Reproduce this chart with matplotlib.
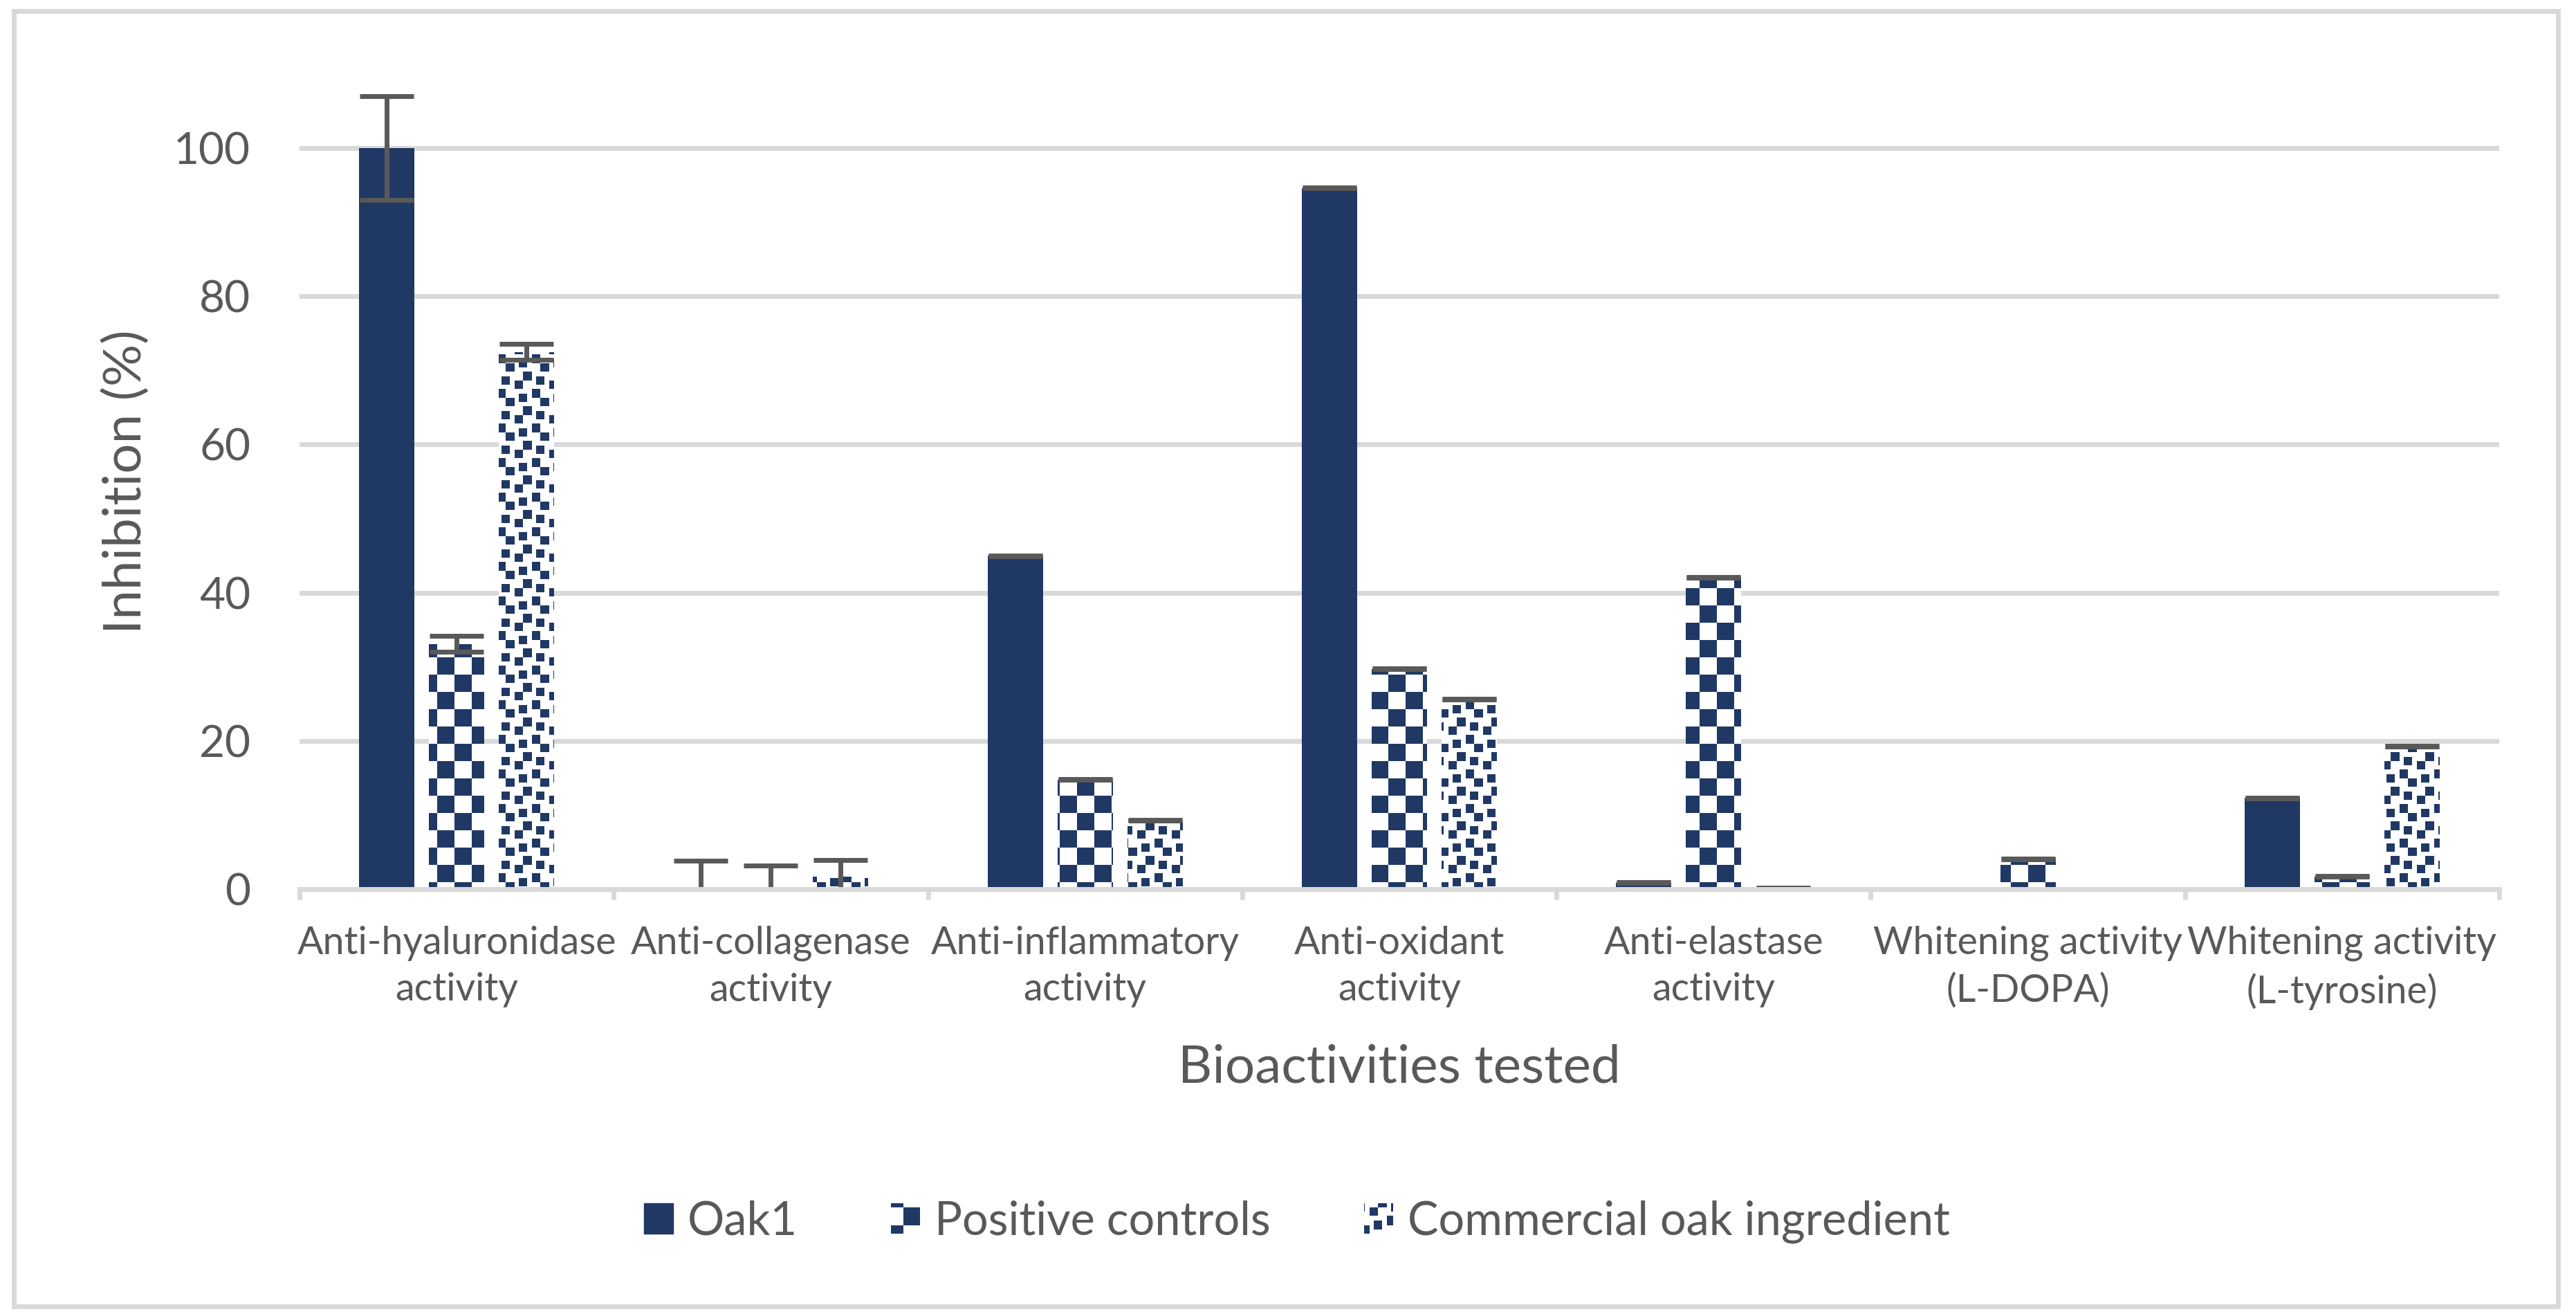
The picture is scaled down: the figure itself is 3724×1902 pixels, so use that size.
import numpy as np
import matplotlib
matplotlib.use('Agg')
import matplotlib.pyplot as plt
from matplotlib.patches import Rectangle
from matplotlib.path import Path
from matplotlib.legend_handler import HandlerBase

plt.rcParams['font.family'] = ['Lato', 'DejaVu Sans']

categories = ['Anti-hyaluronidase\nactivity', 'Anti-collagenase\nactivity', 'Anti-inflammatory\nactivity',
              'Anti-oxidant\nactivity', 'Anti-elastase\nactivity', 'Whitening activity\n(L-DOPA)',
              'Whitening activity\n(L-tyrosine)']
series = ['Oak1', 'Positive controls', 'Commercial oak ingredient']
oak1 = [100.0, 0.0, 45.0, 94.6, 0.85, 0.0, 12.3]
oak1_err = [7.0, 3.8, 0.05, 0.05, 0.05, 0.0, 0.05]
positive = [33.1, 0.0, 14.8, 29.7, 42.1, 4.1, 1.7]
positive_err = [1.1, 3.2, 0.05, 0.05, 0.05, 0.05, 0.05]
commercial = [72.5, 1.7, 9.3, 25.6, 0.1, 0.0, 19.3]
commercial_err = [1.1, 2.2, 0.05, 0.05, 0.05, 0.0, 0.05]

NAVY = '#203864'
NAVY_RGB = (32, 56, 100)
GRAY = '#595959'
GRID = '#D9D9D9'

# figure / plot area in pixels
FIG_W, FIG_H, DPI = 3724, 1902, 100
AX_L, AX_R, AX_T, AX_B = 433, 3613, 107, 1285


# fill patterns (excel style), px/py are figure pixels from top-left
def checker(px, py):
    return ((np.floor((px - 7) / 25) + np.floor(py / 25)) % 2) == 1


CONFETTI = [(0, 7), (3, 0), (7, 2), (4, 3), (1, 4), (5, 6)]


def confetti(px, py):
    ux = np.floor((px - 25) / 6.25) % 8
    uy = np.floor(py / 6.25) % 8
    dark = np.zeros(np.broadcast(px, py).shape, bool)
    for sx, sy in CONFETTI:
        dark |= (((ux - sx) % 8) < 2) & (((uy - sy) % 8) < 2)
    return dark


def pattern_image(func):
    px, py = np.meshgrid(np.arange(AX_L, AX_R) + 0.5, np.arange(AX_T, AX_B) + 0.5)
    img = np.full(px.shape + (3,), 255, np.uint8)
    img[func(px, py)] = NAVY_RGB
    return img


class PatternHandler(HandlerBase):
    def __init__(self, func, origin, size=42):
        super().__init__()
        self.func, self.origin, self.size = func, origin, size

    def create_artists(self, legend, orig_handle, xdescent, ydescent, width, height, fontsize, trans):
        n = self.size
        cx, cy = np.meshgrid(np.arange(n) + self.origin[0] + 0.5, np.arange(n) + self.origin[1] + 0.5)
        dark = self.func(cx, cy)
        sx, sy = width / n, height / n
        artists = []
        for r in range(n):
            row = np.concatenate([[0], dark[r].astype(int), [0]])
            edges = np.flatnonzero(np.diff(row))
            for a, b in zip(edges[::2], edges[1::2]):
                artists.append(Rectangle((-xdescent + a * sx, -ydescent + height - (r + 1) * sy),
                                         (b - a) * sx, sy, facecolor=NAVY, edgecolor='none',
                                         linewidth=0, antialiased=False, transform=trans))
        return artists


fig = plt.figure(figsize=(FIG_W / DPI, FIG_H / DPI), dpi=DPI)
ax = fig.add_axes([AX_L / FIG_W, 1 - AX_B / FIG_H, (AX_R - AX_L) / FIG_W, (AX_B - AX_T) / FIG_H])

x = np.arange(len(categories))
step, width = 0.2223, 0.176
ax.bar(x - step, oak1, width, color=NAVY, zorder=2)
bars_pos = ax.bar(x, positive, width, color='white', zorder=2)
bars_com = ax.bar(x + step, commercial, width, color='white', zorder=2)

for bars, func in ((bars_pos, checker), (bars_com, confetti)):
    clip = Path.make_compound_path(*[b.get_path().transformed(b.get_patch_transform()) for b in bars])
    im = ax.imshow(pattern_image(func), extent=(0, 1, 0, 1), transform=ax.transAxes,
                   interpolation='nearest', aspect='auto', zorder=2.2)
    im.set_clip_path(clip, ax.transData)

for off, vals, errs in ((-step, oak1, oak1_err), (0, positive, positive_err), (step, commercial, commercial_err)):
    vals, errs = np.array(vals), np.array(errs)
    keep = errs > 0
    ax.errorbar(x[keep] + off, vals[keep], yerr=errs[keep], fmt='none', ecolor=GRAY,
                elinewidth=5, capsize=28, capthick=5, zorder=3)

ax.set_xlim(-0.5, 6.5)
ax.set_ylim(0, 110)
ax.set_yticks(range(0, 101, 20))
ax.grid(axis='y', color=GRID, linewidth=5)
ax.set_axisbelow(True)
for s in ['top', 'right', 'left']:
    ax.spines[s].set_visible(False)
ax.spines['bottom'].set_color(GRID)
ax.spines['bottom'].set_linewidth(5)
ax.spines['bottom'].set_zorder(4)

ax.set_xticks(np.arange(-0.5, 7), labels=[])
ax.set_xticks(x, labels=categories, minor=True)
ax.tick_params(axis='x', which='major', length=10.8, width=5, color=GRID)
ax.tick_params(axis='x', which='minor', length=0, pad=38, labelsize=40, labelcolor=GRAY)
ax.tick_params(axis='y', length=0, pad=51, labelsize=46, labelcolor=GRAY)
for lab in ax.get_xticklabels(minor=True):
    lab.set_linespacing(1.4)

ax.set_ylabel('Inhibition (%)', fontsize=55, color=GRAY)
ax.yaxis.set_label_coords(-0.068, 0.5)
ax.set_xlabel('Bioactivities tested', fontsize=55, color=GRAY)
ax.xaxis.set_label_coords(0.5, -0.19)

handles = [Rectangle((0, 0), 1, 1, color=NAVY), Rectangle((0, 0), 1, 1), Rectangle((0, 0), 1, 1)]
fig.legend(handles, series, loc='center', bbox_to_anchor=(0.5035, 0.0715), ncol=3, frameon=False,
           fontsize=48, labelcolor=GRAY, handlelength=0.63, handleheight=0.63,
           handletextpad=0.31, columnspacing=2.03,
           handler_map={handles[1]: PatternHandler(checker, (1264, 1745)),
                        handles[2]: PatternHandler(confetti, (1936, 1745))})

# chart border
fig.add_artist(Rectangle((20 / FIG_W, 14 / FIG_H), (3698 - 20) / FIG_W, (1888 - 16) / FIG_H,
                         transform=fig.transFigure, fill=False, edgecolor=GRID, linewidth=5))

fig.savefig('out.png', dpi=DPI, facecolor='white')
